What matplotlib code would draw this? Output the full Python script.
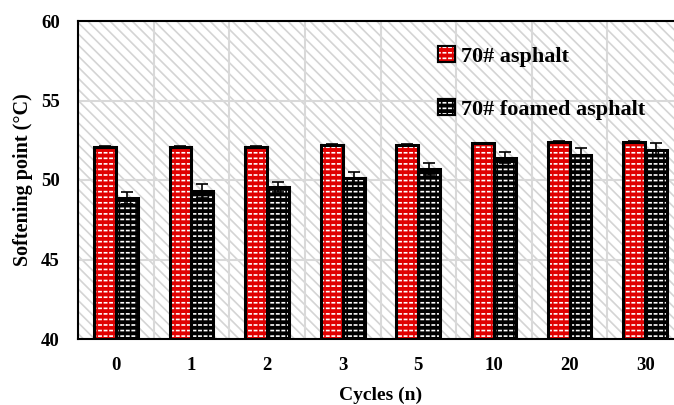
import matplotlib
matplotlib.use("Agg")
import matplotlib.pyplot as plt
import numpy as np
from matplotlib.patches import Rectangle, Patch
from matplotlib.legend_handler import HandlerTuple

categories = ["0", "1", "2", "3", "5", "10", "20", "30"]
asphalt = [52.1, 52.1, 52.1, 52.2, 52.2, 52.3, 52.4, 52.4]
asphalt_err = [0.05, 0.05, 0.05, 0.05, 0.05, 0.05, 0.05, 0.05]
foamed = [48.85, 49.3, 49.55, 50.1, 50.7, 51.4, 51.6, 51.9]
foamed_err = [0.38, 0.42, 0.32, 0.38, 0.38, 0.33, 0.42, 0.42]

plt.rcParams['font.family'] = ['Liberation Serif', 'DejaVu Serif']
plt.rcParams['font.weight'] = 'bold'
plt.rcParams['hatch.linewidth'] = 1.2

RED = '#e00000'

fig = plt.figure(figsize=(6.74, 4.05), dpi=100)
ax = fig.add_axes([78/674, 1-339/405, 605/674, 318/405])

x = np.arange(len(categories))
w = 0.29

# background hatch
bg = Rectangle((0, 0), 1, 1, transform=ax.transAxes, facecolor='white',
               edgecolor='#d4d4d4', hatch='\\\\\\', linewidth=0, zorder=0)
ax.add_patch(bg)

ax.set_xlim(-0.5, len(categories) - 0.5)
ax.set_ylim(40, 60)
ax.set_yticks([40, 45, 50, 55, 60])
ax.set_xticks(x)
ax.set_xticklabels(categories)
ax.set_xticks(np.arange(len(categories) + 1) - 0.5, minor=True)
ax.grid(which='major', axis='y', color='#d9d9d9', linewidth=1.5, zorder=1)
ax.grid(which='minor', axis='x', color='#d9d9d9', linewidth=1.5, zorder=1)
ax.set_axisbelow(True)

def pattern_bars(xpos, vals, color):
    h = np.array(vals) - 40
    ax.bar(xpos, h, bottom=40, width=w, color=color, linewidth=0, zorder=2)
    ax.bar(xpos, h, bottom=40, width=w, facecolor='none',
           edgecolor='white', hatch='---', linewidth=0, zorder=3)
    ax.bar(xpos, h, bottom=40, width=w, facecolor='none',
           edgecolor=color, hatch='|||', linewidth=0, zorder=4)
    ax.bar(xpos, h, bottom=40, width=w, facecolor='none',
           edgecolor='black', linewidth=2.2, zorder=5)

pattern_bars(x - w/2, asphalt, RED)
pattern_bars(x + w/2, foamed, '#000000')
ax.errorbar(x - w/2, asphalt, yerr=asphalt_err, fmt='none', ecolor='black',
            elinewidth=1.2, capsize=4, capthick=1.2, zorder=6)
ax.errorbar(x + w/2, foamed, yerr=foamed_err, fmt='none', ecolor='black',
            elinewidth=1.2, capsize=4, capthick=1.2, zorder=6)

def handle(color):
    return (Patch(facecolor=color, edgecolor='black', linewidth=1.5),
            Patch(facecolor='none', edgecolor='white', hatch='---', linewidth=0),
            Patch(facecolor='none', edgecolor=color, hatch='|||', linewidth=0),
            Patch(facecolor='none', edgecolor='black', linewidth=1.5))

leg = ax.legend([handle(RED), handle('#000000')],
                ['70# asphalt', '70# foamed asphalt'],
                handler_map={tuple: HandlerTuple(ndivide=1)},
                loc='upper left', bbox_to_anchor=(0.562, 0.985), frameon=False,
                fontsize=16, labelspacing=1.45, handlelength=0.75,
                handleheight=0.75, handletextpad=0.3)

for s in ['left', 'bottom', 'top']:
    ax.spines[s].set_linewidth(1.5)
    ax.spines[s].set_color('black')
ax.spines['right'].set_visible(False)
ax.tick_params(axis='both', which='both', length=0, labelsize=13.5)
ax.tick_params(axis='y', pad=13)
ax.tick_params(axis='x', pad=13)
ax.set_ylabel('Softening point (°C)', fontsize=14.5, fontweight='bold', labelpad=6)
ax.set_xlabel('Cycles (n)', fontsize=14, fontweight='bold', labelpad=9)

fig.savefig('out.png', dpi=100)
